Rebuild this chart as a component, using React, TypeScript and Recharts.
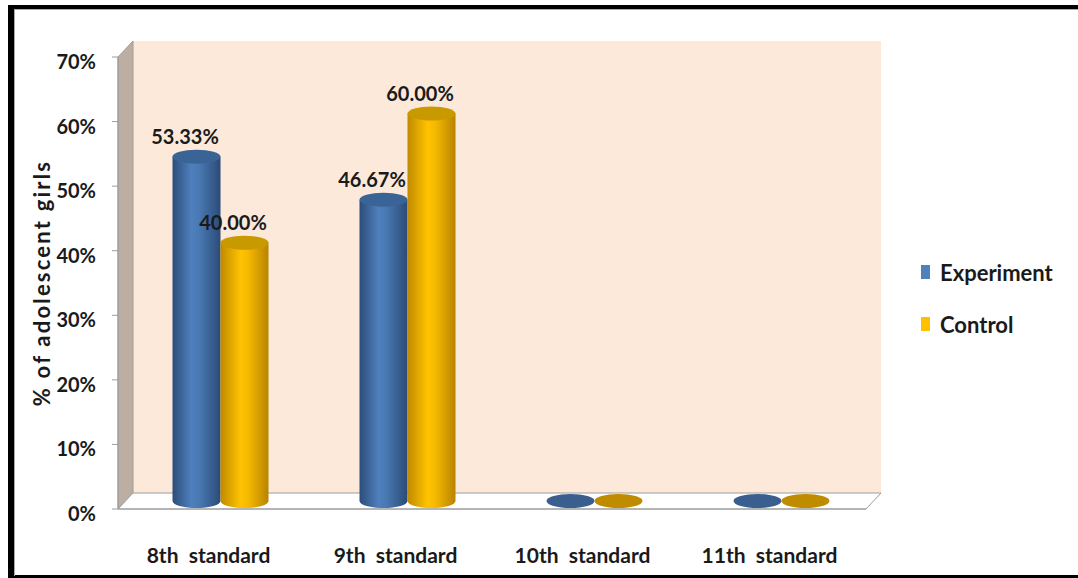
import React from "react"
import { BarChart, Bar, XAxis, YAxis, LabelList } from "recharts"

const categories = ["8th  standard", "9th  standard", "10th  standard", "11th  standard"]
const experiment = [53.33, 46.67, 0, 0]
const control = [40.0, 60.0, 0, 0]
const yTicks = [0, 10, 20, 30, 40, 50, 60, 70]
const seriesNames = ["Experiment", "Control"]
const yLabel = "% of adolescent girls"

const data = categories.map((c, i) => ({
  category: c,
  experiment: experiment[i],
  control: control[i]
}))

const W = 1078
const H = 578
// front plane of the 3D plot box
const L = 118
const T = 57
const R = 866
const B = 509
const DX = 15
const DY = 16
const Y_AXIS_W = 80
const X_AXIS_H = 60
const FONT = "Lato, 'Open Sans', sans-serif"
const TEXT = "#1a1a1a"

const BLUE = { id: "cylBlue", top: "#3a6396", flat: "#3a5f8f", legend: "#4f81bd" }
const GOLD = { id: "cylGold", top: "#c99900", flat: "#bf8c00", legend: "#ffc000" }

const makeCylinder = (c: typeof BLUE) => (props: any) => {
  const { x, y, width, height } = props
  const left = x + 8.5
  const right = left + width
  const rx = width / 2
  const cx = left + rx
  const ry = 7
  const top = y - 8
  const bottom = y + height - 8
  if (!height || height < 1)
    return <ellipse cx={cx} cy={bottom} rx={rx} ry={ry} fill={c.flat} />
  return (
    <g>
      <path
        d={`M${left},${top} L${left},${bottom} A${rx},${ry} 0 0 0 ${right},${bottom} L${right},${top} Z`}
        fill={`url(#${c.id})`}
      />
      <ellipse cx={cx} cy={top} rx={rx} ry={ry} fill={c.top} />
    </g>
  )
}

const ValueLabel = (props: any) => {
  const { x, y, width, value } = props
  if (!value) return null
  return (
    <text
      x={x + width / 2 - 3}
      y={y - 21}
      textAnchor="middle"
      fontFamily={FONT}
      fontWeight="bold"
      fontSize={20}
      fill={TEXT}
    >
      {value.toFixed(2)}%
    </text>
  )
}

const XTick = ({ x, y, payload }: any) => (
  <text
    x={x - 3}
    y={y + 54}
    textAnchor="middle"
    fontFamily={FONT}
    fontWeight="bold"
    fontSize={21}
    fill={TEXT}
    style={{ whiteSpace: "pre" }}
  >
    {payload.value}
  </text>
)

const YTick = ({ x, y, payload }: any) => (
  <text
    x={x}
    y={y + 12}
    textAnchor="end"
    fontFamily={FONT}
    fontWeight="bold"
    fontSize={20}
    fill={TEXT}
  >
    {payload.value}%
  </text>
)

export default function App() {
  return (
    <div style={{ position: "relative", width: W, height: H, overflow: "hidden", background: "#fff" }}>
      <style>{`body{margin:0}`}</style>

      {/* frame */}
      <div
        style={{
          position: "absolute",
          left: 8,
          top: 5,
          width: W,
          height: H - 5,
          borderTop: "4px solid #000",
          borderLeft: "6px solid #000",
          borderBottom: "3px solid #000",
          boxSizing: "border-box"
        }}
      />
      <div
        style={{
          position: "absolute",
          left: 14,
          top: 9,
          width: W,
          height: H - 12,
          borderTop: "1px solid #aaa",
          borderLeft: "1px solid #aaa"
        }}
      />

      {/* 3D walls */}
      <svg width={W} height={H} style={{ position: "absolute", left: 0, top: 0 }}>
        <defs>
          <linearGradient id="cylBlue" x1="0" y1="0" x2="1" y2="0">
            <stop offset="0%" stopColor="#2c4d7a" />
            <stop offset="40%" stopColor="#4f80bd" />
            <stop offset="55%" stopColor="#4a79b3" />
            <stop offset="100%" stopColor="#2b4b77" />
          </linearGradient>
          <linearGradient id="cylGold" x1="0" y1="0" x2="1" y2="0">
            <stop offset="0%" stopColor="#c08a00" />
            <stop offset="42%" stopColor="#ffc300" />
            <stop offset="58%" stopColor="#f5b900" />
            <stop offset="100%" stopColor="#b88300" />
          </linearGradient>
        </defs>
        <rect x={L + DX} y={T - DY} width={R - L} height={B - T} fill="#fce9da" />
        <polygon
          points={`${L},${T} ${L + DX},${T - DY} ${L + DX},${B - DY} ${L},${B}`}
          fill="#bdaea1"
          stroke="#9c9c9c"
        />
        <polygon
          points={`${L},${B} ${R},${B} ${R + DX},${B - DY} ${L + DX},${B - DY}`}
          fill="#ffffff"
          stroke="#9c9c9c"
        />
        <text
          transform={`translate(50, 283) rotate(-90)`}
          textAnchor="middle"
          fontFamily={FONT}
          fontWeight="bold"
          fontSize={22}
          letterSpacing={2.2}
          fill={TEXT}
        >
          {yLabel}
        </text>
      </svg>

      <BarChart
        width={W}
        height={H}
        data={data}
        barGap={0}
        barSize={48}
        margin={{ top: T, right: W - R, bottom: H - B - X_AXIS_H, left: L - Y_AXIS_W }}
        style={{ position: "absolute", left: 0, top: 0 }}
      >
        <XAxis
          dataKey="category"
          height={X_AXIS_H}
          axisLine={{ stroke: "#9c9c9c" }}
          tickLine={false}
          tickSize={0}
          tickMargin={0}
          interval={0}
          tick={<XTick />}
        />
        <YAxis
          width={Y_AXIS_W}
          domain={[0, 70]}
          ticks={yTicks}
          allowDataOverflow
          axisLine={{ stroke: "#9c9c9c" }}
          tickLine={{ stroke: "#9c9c9c" }}
          tickSize={6}
          tickMargin={16}
          tick={<YTick />}
        />
        <Bar dataKey="experiment" name={seriesNames[0]} shape={makeCylinder(BLUE)} isAnimationActive={false}>
          <LabelList dataKey="experiment" content={<ValueLabel />} />
        </Bar>
        <Bar dataKey="control" name={seriesNames[1]} shape={makeCylinder(GOLD)} isAnimationActive={false}>
          <LabelList dataKey="control" content={<ValueLabel />} />
        </Bar>
      </BarChart>

      {/* legend */}
      <div style={{ position: "absolute", left: 921, top: 258, fontFamily: FONT, fontWeight: "bold", fontSize: 22, color: TEXT }}>
        {seriesNames.map((n, i) => (
          <div key={n} style={{ display: "flex", alignItems: "center", height: 28, marginBottom: i === 0 ? 24 : 0 }}>
            <span
              style={{
                display: "inline-block",
                width: 9,
                height: 14,
                marginRight: 10,
                background: i === 0 ? BLUE.legend : GOLD.legend
              }}
            />
            {n}
          </div>
        ))}
      </div>
    </div>
  )
}
